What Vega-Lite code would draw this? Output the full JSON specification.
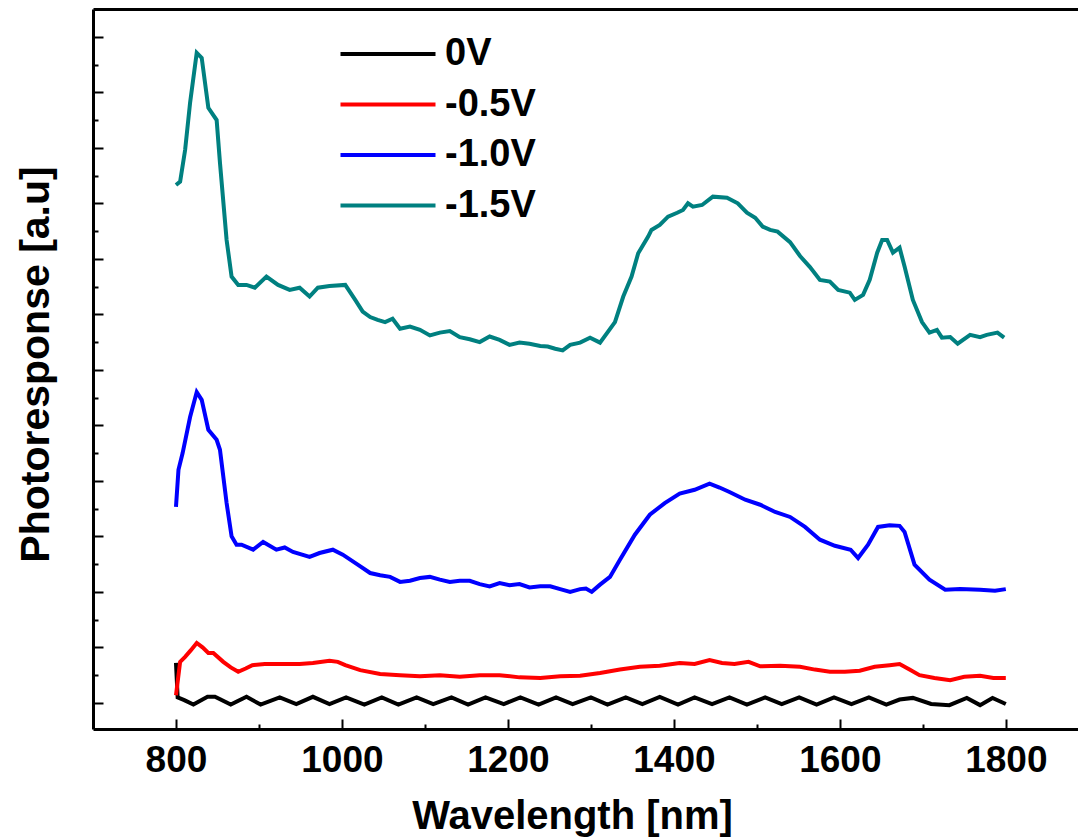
{
  "$schema": "https://vega.github.io/schema/vega-lite/v6.json",
  "width": 985,
  "height": 720,
  "autosize": {"type": "none"},
  "padding": {"left": 93, "top": 9, "right": 0, "bottom": 111},
  "background": "white",
  "config": {"view": {"stroke": null}, "font": "Liberation Sans"},
  "datasets": {
    "curves": [
      {"s": "0V", "nm": 800, "v": 0.72}, {"s": "0V", "nm": 802, "v": 0.1}, {"s": "0V", "nm": 810, "v": 0.05}, {"s": "0V", "nm": 821, "v": -0.03}, {"s": "0V", "nm": 838, "v": 0.11}, {"s": "0V", "nm": 847, "v": 0.11}, {"s": "0V", "nm": 866, "v": -0.03}, {"s": "0V", "nm": 885, "v": 0.11}, {"s": "0V", "nm": 902, "v": -0.03}, {"s": "0V", "nm": 925, "v": 0.1}, {"s": "0V", "nm": 945, "v": -0.02}, {"s": "0V", "nm": 965, "v": 0.11}, {"s": "0V", "nm": 985, "v": -0.02}, {"s": "0V", "nm": 1005, "v": 0.1}, {"s": "0V", "nm": 1027, "v": -0.03}, {"s": "0V", "nm": 1048, "v": 0.1}, {"s": "0V", "nm": 1068, "v": -0.03}, {"s": "0V", "nm": 1090, "v": 0.1}, {"s": "0V", "nm": 1110, "v": -0.02}, {"s": "0V", "nm": 1132, "v": 0.1}, {"s": "0V", "nm": 1152, "v": -0.03}, {"s": "0V", "nm": 1173, "v": 0.1}, {"s": "0V", "nm": 1195, "v": -0.02}, {"s": "0V", "nm": 1215, "v": 0.1}, {"s": "0V", "nm": 1237, "v": -0.03}, {"s": "0V", "nm": 1258, "v": 0.1}, {"s": "0V", "nm": 1278, "v": -0.02}, {"s": "0V", "nm": 1300, "v": 0.1}, {"s": "0V", "nm": 1320, "v": -0.03}, {"s": "0V", "nm": 1342, "v": 0.1}, {"s": "0V", "nm": 1362, "v": -0.02}, {"s": "0V", "nm": 1383, "v": 0.11}, {"s": "0V", "nm": 1405, "v": -0.03}, {"s": "0V", "nm": 1425, "v": 0.1}, {"s": "0V", "nm": 1446, "v": -0.02}, {"s": "0V", "nm": 1467, "v": 0.1}, {"s": "0V", "nm": 1488, "v": -0.03}, {"s": "0V", "nm": 1510, "v": 0.1}, {"s": "0V", "nm": 1530, "v": -0.02}, {"s": "0V", "nm": 1551, "v": 0.1}, {"s": "0V", "nm": 1572, "v": -0.03}, {"s": "0V", "nm": 1593, "v": 0.1}, {"s": "0V", "nm": 1614, "v": -0.02}, {"s": "0V", "nm": 1635, "v": 0.1}, {"s": "0V", "nm": 1656, "v": -0.03}, {"s": "0V", "nm": 1672, "v": 0.06}, {"s": "0V", "nm": 1688, "v": 0.09}, {"s": "0V", "nm": 1710, "v": -0.02}, {"s": "0V", "nm": 1732, "v": -0.04}, {"s": "0V", "nm": 1753, "v": 0.09}, {"s": "0V", "nm": 1769, "v": -0.04}, {"s": "0V", "nm": 1784, "v": 0.09}, {"s": "0V", "nm": 1800, "v": -0.02},

      {"s": "-0.5V", "nm": 800, "v": 0.14}, {"s": "-0.5V", "nm": 805, "v": 0.74}, {"s": "-0.5V", "nm": 811, "v": 0.83}, {"s": "-0.5V", "nm": 818, "v": 0.95}, {"s": "-0.5V", "nm": 825, "v": 1.08}, {"s": "-0.5V", "nm": 832, "v": 1.0}, {"s": "-0.5V", "nm": 839, "v": 0.9}, {"s": "-0.5V", "nm": 845, "v": 0.9}, {"s": "-0.5V", "nm": 857, "v": 0.74}, {"s": "-0.5V", "nm": 866, "v": 0.64}, {"s": "-0.5V", "nm": 875, "v": 0.56}, {"s": "-0.5V", "nm": 884, "v": 0.62}, {"s": "-0.5V", "nm": 892, "v": 0.68}, {"s": "-0.5V", "nm": 907, "v": 0.7}, {"s": "-0.5V", "nm": 925, "v": 0.7}, {"s": "-0.5V", "nm": 949, "v": 0.7}, {"s": "-0.5V", "nm": 965, "v": 0.72}, {"s": "-0.5V", "nm": 985, "v": 0.76}, {"s": "-0.5V", "nm": 995, "v": 0.74}, {"s": "-0.5V", "nm": 1004, "v": 0.68}, {"s": "-0.5V", "nm": 1022, "v": 0.59}, {"s": "-0.5V", "nm": 1046, "v": 0.52}, {"s": "-0.5V", "nm": 1070, "v": 0.5}, {"s": "-0.5V", "nm": 1094, "v": 0.48}, {"s": "-0.5V", "nm": 1118, "v": 0.5}, {"s": "-0.5V", "nm": 1142, "v": 0.47}, {"s": "-0.5V", "nm": 1166, "v": 0.5}, {"s": "-0.5V", "nm": 1190, "v": 0.5}, {"s": "-0.5V", "nm": 1214, "v": 0.46}, {"s": "-0.5V", "nm": 1239, "v": 0.45}, {"s": "-0.5V", "nm": 1263, "v": 0.48}, {"s": "-0.5V", "nm": 1287, "v": 0.49}, {"s": "-0.5V", "nm": 1311, "v": 0.54}, {"s": "-0.5V", "nm": 1335, "v": 0.6}, {"s": "-0.5V", "nm": 1359, "v": 0.65}, {"s": "-0.5V", "nm": 1383, "v": 0.67}, {"s": "-0.5V", "nm": 1407, "v": 0.72}, {"s": "-0.5V", "nm": 1425, "v": 0.7}, {"s": "-0.5V", "nm": 1443, "v": 0.77}, {"s": "-0.5V", "nm": 1458, "v": 0.72}, {"s": "-0.5V", "nm": 1473, "v": 0.7}, {"s": "-0.5V", "nm": 1490, "v": 0.74}, {"s": "-0.5V", "nm": 1504, "v": 0.66}, {"s": "-0.5V", "nm": 1528, "v": 0.67}, {"s": "-0.5V", "nm": 1552, "v": 0.65}, {"s": "-0.5V", "nm": 1570, "v": 0.6}, {"s": "-0.5V", "nm": 1588, "v": 0.56}, {"s": "-0.5V", "nm": 1606, "v": 0.56}, {"s": "-0.5V", "nm": 1624, "v": 0.58}, {"s": "-0.5V", "nm": 1642, "v": 0.65}, {"s": "-0.5V", "nm": 1660, "v": 0.68}, {"s": "-0.5V", "nm": 1672, "v": 0.7}, {"s": "-0.5V", "nm": 1684, "v": 0.6}, {"s": "-0.5V", "nm": 1696, "v": 0.5}, {"s": "-0.5V", "nm": 1714, "v": 0.45}, {"s": "-0.5V", "nm": 1733, "v": 0.41}, {"s": "-0.5V", "nm": 1750, "v": 0.47}, {"s": "-0.5V", "nm": 1769, "v": 0.49}, {"s": "-0.5V", "nm": 1785, "v": 0.45}, {"s": "-0.5V", "nm": 1800, "v": 0.45},

      {"s": "-1.0V", "nm": 800, "v": 3.53}, {"s": "-1.0V", "nm": 803, "v": 4.2}, {"s": "-1.0V", "nm": 808, "v": 4.5}, {"s": "-1.0V", "nm": 817, "v": 5.15}, {"s": "-1.0V", "nm": 825, "v": 5.6}, {"s": "-1.0V", "nm": 831, "v": 5.46}, {"s": "-1.0V", "nm": 839, "v": 4.92}, {"s": "-1.0V", "nm": 849, "v": 4.74}, {"s": "-1.0V", "nm": 853, "v": 4.56}, {"s": "-1.0V", "nm": 861, "v": 3.6}, {"s": "-1.0V", "nm": 867, "v": 3.0}, {"s": "-1.0V", "nm": 873, "v": 2.85}, {"s": "-1.0V", "nm": 879, "v": 2.85}, {"s": "-1.0V", "nm": 893, "v": 2.76}, {"s": "-1.0V", "nm": 905, "v": 2.9}, {"s": "-1.0V", "nm": 921, "v": 2.76}, {"s": "-1.0V", "nm": 931, "v": 2.8}, {"s": "-1.0V", "nm": 941, "v": 2.72}, {"s": "-1.0V", "nm": 961, "v": 2.63}, {"s": "-1.0V", "nm": 973, "v": 2.7}, {"s": "-1.0V", "nm": 989, "v": 2.76}, {"s": "-1.0V", "nm": 1001, "v": 2.67}, {"s": "-1.0V", "nm": 1019, "v": 2.49}, {"s": "-1.0V", "nm": 1034, "v": 2.34}, {"s": "-1.0V", "nm": 1046, "v": 2.3}, {"s": "-1.0V", "nm": 1058, "v": 2.27}, {"s": "-1.0V", "nm": 1070, "v": 2.18}, {"s": "-1.0V", "nm": 1082, "v": 2.2}, {"s": "-1.0V", "nm": 1094, "v": 2.25}, {"s": "-1.0V", "nm": 1106, "v": 2.27}, {"s": "-1.0V", "nm": 1118, "v": 2.22}, {"s": "-1.0V", "nm": 1130, "v": 2.18}, {"s": "-1.0V", "nm": 1142, "v": 2.2}, {"s": "-1.0V", "nm": 1154, "v": 2.2}, {"s": "-1.0V", "nm": 1166, "v": 2.14}, {"s": "-1.0V", "nm": 1178, "v": 2.1}, {"s": "-1.0V", "nm": 1190, "v": 2.16}, {"s": "-1.0V", "nm": 1202, "v": 2.12}, {"s": "-1.0V", "nm": 1214, "v": 2.14}, {"s": "-1.0V", "nm": 1226, "v": 2.08}, {"s": "-1.0V", "nm": 1239, "v": 2.1}, {"s": "-1.0V", "nm": 1251, "v": 2.1}, {"s": "-1.0V", "nm": 1263, "v": 2.05}, {"s": "-1.0V", "nm": 1275, "v": 2.0}, {"s": "-1.0V", "nm": 1287, "v": 2.05}, {"s": "-1.0V", "nm": 1294, "v": 2.06}, {"s": "-1.0V", "nm": 1301, "v": 2.0}, {"s": "-1.0V", "nm": 1311, "v": 2.13}, {"s": "-1.0V", "nm": 1323, "v": 2.27}, {"s": "-1.0V", "nm": 1335, "v": 2.58}, {"s": "-1.0V", "nm": 1353, "v": 3.03}, {"s": "-1.0V", "nm": 1371, "v": 3.39}, {"s": "-1.0V", "nm": 1389, "v": 3.6}, {"s": "-1.0V", "nm": 1407, "v": 3.77}, {"s": "-1.0V", "nm": 1425, "v": 3.84}, {"s": "-1.0V", "nm": 1443, "v": 3.95}, {"s": "-1.0V", "nm": 1455, "v": 3.88}, {"s": "-1.0V", "nm": 1467, "v": 3.8}, {"s": "-1.0V", "nm": 1486, "v": 3.66}, {"s": "-1.0V", "nm": 1504, "v": 3.57}, {"s": "-1.0V", "nm": 1522, "v": 3.44}, {"s": "-1.0V", "nm": 1540, "v": 3.35}, {"s": "-1.0V", "nm": 1558, "v": 3.17}, {"s": "-1.0V", "nm": 1576, "v": 2.94}, {"s": "-1.0V", "nm": 1594, "v": 2.83}, {"s": "-1.0V", "nm": 1613, "v": 2.76}, {"s": "-1.0V", "nm": 1622, "v": 2.61}, {"s": "-1.0V", "nm": 1634, "v": 2.85}, {"s": "-1.0V", "nm": 1646, "v": 3.17}, {"s": "-1.0V", "nm": 1660, "v": 3.2}, {"s": "-1.0V", "nm": 1672, "v": 3.19}, {"s": "-1.0V", "nm": 1678, "v": 3.08}, {"s": "-1.0V", "nm": 1690, "v": 2.49}, {"s": "-1.0V", "nm": 1708, "v": 2.22}, {"s": "-1.0V", "nm": 1727, "v": 2.04}, {"s": "-1.0V", "nm": 1745, "v": 2.05}, {"s": "-1.0V", "nm": 1769, "v": 2.04}, {"s": "-1.0V", "nm": 1787, "v": 2.02}, {"s": "-1.0V", "nm": 1800, "v": 2.05},

      {"s": "-1.5V", "nm": 800, "v": 9.33}, {"s": "-1.5V", "nm": 805, "v": 9.39}, {"s": "-1.5V", "nm": 811, "v": 9.96}, {"s": "-1.5V", "nm": 817, "v": 10.81}, {"s": "-1.5V", "nm": 825, "v": 11.71}, {"s": "-1.5V", "nm": 831, "v": 11.62}, {"s": "-1.5V", "nm": 839, "v": 10.72}, {"s": "-1.5V", "nm": 849, "v": 10.5}, {"s": "-1.5V", "nm": 853, "v": 9.73}, {"s": "-1.5V", "nm": 861, "v": 8.34}, {"s": "-1.5V", "nm": 867, "v": 7.68}, {"s": "-1.5V", "nm": 875, "v": 7.53}, {"s": "-1.5V", "nm": 885, "v": 7.53}, {"s": "-1.5V", "nm": 895, "v": 7.48}, {"s": "-1.5V", "nm": 909, "v": 7.68}, {"s": "-1.5V", "nm": 923, "v": 7.53}, {"s": "-1.5V", "nm": 937, "v": 7.44}, {"s": "-1.5V", "nm": 949, "v": 7.48}, {"s": "-1.5V", "nm": 961, "v": 7.32}, {"s": "-1.5V", "nm": 971, "v": 7.48}, {"s": "-1.5V", "nm": 985, "v": 7.51}, {"s": "-1.5V", "nm": 1004, "v": 7.53}, {"s": "-1.5V", "nm": 1016, "v": 7.26}, {"s": "-1.5V", "nm": 1025, "v": 7.05}, {"s": "-1.5V", "nm": 1034, "v": 6.95}, {"s": "-1.5V", "nm": 1043, "v": 6.9}, {"s": "-1.5V", "nm": 1052, "v": 6.86}, {"s": "-1.5V", "nm": 1061, "v": 6.92}, {"s": "-1.5V", "nm": 1070, "v": 6.74}, {"s": "-1.5V", "nm": 1082, "v": 6.78}, {"s": "-1.5V", "nm": 1094, "v": 6.72}, {"s": "-1.5V", "nm": 1106, "v": 6.62}, {"s": "-1.5V", "nm": 1118, "v": 6.67}, {"s": "-1.5V", "nm": 1130, "v": 6.7}, {"s": "-1.5V", "nm": 1142, "v": 6.59}, {"s": "-1.5V", "nm": 1154, "v": 6.55}, {"s": "-1.5V", "nm": 1166, "v": 6.5}, {"s": "-1.5V", "nm": 1178, "v": 6.6}, {"s": "-1.5V", "nm": 1190, "v": 6.54}, {"s": "-1.5V", "nm": 1202, "v": 6.45}, {"s": "-1.5V", "nm": 1214, "v": 6.49}, {"s": "-1.5V", "nm": 1226, "v": 6.47}, {"s": "-1.5V", "nm": 1239, "v": 6.43}, {"s": "-1.5V", "nm": 1248, "v": 6.42}, {"s": "-1.5V", "nm": 1257, "v": 6.38}, {"s": "-1.5V", "nm": 1266, "v": 6.35}, {"s": "-1.5V", "nm": 1275, "v": 6.45}, {"s": "-1.5V", "nm": 1287, "v": 6.49}, {"s": "-1.5V", "nm": 1299, "v": 6.58}, {"s": "-1.5V", "nm": 1311, "v": 6.49}, {"s": "-1.5V", "nm": 1329, "v": 6.86}, {"s": "-1.5V", "nm": 1339, "v": 7.32}, {"s": "-1.5V", "nm": 1349, "v": 7.68}, {"s": "-1.5V", "nm": 1357, "v": 8.1}, {"s": "-1.5V", "nm": 1369, "v": 8.4}, {"s": "-1.5V", "nm": 1373, "v": 8.52}, {"s": "-1.5V", "nm": 1383, "v": 8.61}, {"s": "-1.5V", "nm": 1393, "v": 8.76}, {"s": "-1.5V", "nm": 1404, "v": 8.83}, {"s": "-1.5V", "nm": 1411, "v": 8.88}, {"s": "-1.5V", "nm": 1417, "v": 9.0}, {"s": "-1.5V", "nm": 1423, "v": 8.94}, {"s": "-1.5V", "nm": 1434, "v": 8.97}, {"s": "-1.5V", "nm": 1447, "v": 9.12}, {"s": "-1.5V", "nm": 1464, "v": 9.1}, {"s": "-1.5V", "nm": 1477, "v": 9.0}, {"s": "-1.5V", "nm": 1488, "v": 8.83}, {"s": "-1.5V", "nm": 1498, "v": 8.74}, {"s": "-1.5V", "nm": 1507, "v": 8.58}, {"s": "-1.5V", "nm": 1516, "v": 8.52}, {"s": "-1.5V", "nm": 1525, "v": 8.49}, {"s": "-1.5V", "nm": 1540, "v": 8.3}, {"s": "-1.5V", "nm": 1552, "v": 8.05}, {"s": "-1.5V", "nm": 1564, "v": 7.85}, {"s": "-1.5V", "nm": 1576, "v": 7.62}, {"s": "-1.5V", "nm": 1588, "v": 7.59}, {"s": "-1.5V", "nm": 1598, "v": 7.44}, {"s": "-1.5V", "nm": 1612, "v": 7.39}, {"s": "-1.5V", "nm": 1618, "v": 7.26}, {"s": "-1.5V", "nm": 1628, "v": 7.35}, {"s": "-1.5V", "nm": 1636, "v": 7.62}, {"s": "-1.5V", "nm": 1645, "v": 8.11}, {"s": "-1.5V", "nm": 1651, "v": 8.34}, {"s": "-1.5V", "nm": 1657, "v": 8.34}, {"s": "-1.5V", "nm": 1664, "v": 8.11}, {"s": "-1.5V", "nm": 1672, "v": 8.2}, {"s": "-1.5V", "nm": 1678, "v": 7.86}, {"s": "-1.5V", "nm": 1688, "v": 7.26}, {"s": "-1.5V", "nm": 1699, "v": 6.86}, {"s": "-1.5V", "nm": 1708, "v": 6.67}, {"s": "-1.5V", "nm": 1717, "v": 6.72}, {"s": "-1.5V", "nm": 1723, "v": 6.58}, {"s": "-1.5V", "nm": 1733, "v": 6.59}, {"s": "-1.5V", "nm": 1742, "v": 6.47}, {"s": "-1.5V", "nm": 1757, "v": 6.63}, {"s": "-1.5V", "nm": 1769, "v": 6.59}, {"s": "-1.5V", "nm": 1777, "v": 6.63}, {"s": "-1.5V", "nm": 1790, "v": 6.67}, {"s": "-1.5V", "nm": 1798, "v": 6.58}
    ]
  },
  "data": {"name": "curves"},
  "layer": [
    {
      "mark": {"type": "line", "strokeWidth": 4, "interpolate": "linear"},
      "encoding": {
        "x": {
          "field": "nm", "type": "quantitative",
          "scale": {"domain": [700, 1887], "nice": false, "zero": false},
          "axis": {
            "orient": "bottom",
            "values": [800, 1000, 1200, 1400, 1600, 1800],
            "format": "d",
            "grid": false,
            "domainWidth": 3, "domainColor": "black",
            "tickColor": "black", "tickWidth": 2, "tickSize": -10,
            "labelFont": "Liberation Sans", "labelFontSize": 37, "labelFontWeight": "bold", "labelColor": "black",
            "labelBaseline": "alphabetic", "labelPadding": 52, "labelFlush": false, "labelOverlap": false,
            "title": "Wavelength [nm]",
            "titleFont": "Liberation Sans", "titleFontSize": 40, "titleFontWeight": "bold", "titleColor": "black",
            "titleBaseline": "alphabetic", "titleAnchor": "start", "titleAlign": "center",
            "titleX": 479, "titleY": 99
          }
        },
        "y": {
          "field": "v", "type": "quantitative",
          "scale": {"domain": [-0.47, 12.5], "nice": false, "zero": false},
          "axis": {
            "values": [0, 1, 2, 3, 4, 5, 6, 7, 8, 9, 10, 11, 12],
            "labels": false, "grid": false,
            "domainWidth": 3, "domainColor": "black",
            "tickColor": "black", "tickWidth": 2, "tickSize": -10,
            "title": "Photoresponse [a.u]",
            "titleFont": "Liberation Sans", "titleFontSize": 41, "titleFontWeight": "bold", "titleColor": "black",
            "titleBaseline": "alphabetic", "titleAngle": 270, "titleAlign": "center", "titleAnchor": "start",
            "titleX": -45, "titleY": 355
          }
        },
        "color": {
          "field": "s", "type": "nominal",
          "scale": {"domain": ["0V", "-0.5V", "-1.0V", "-1.5V"], "range": ["#000000", "#ff0000", "#0000ff", "#008080"]},
          "legend": {
            "orient": "none", "legendX": 274, "legendY": 24, "title": null, "padding": 0,
            "symbolType": "M-2.5,0H2.5", "symbolSize": 1444, "symbolStrokeWidth": 4,
            "labelFont": "Liberation Sans", "labelFontSize": 38, "labelFontWeight": "bold", "labelColor": "black",
            "labelOffset": 36, "rowPadding": 10.5
          }
        }
      }
    },
    {
      "mark": {"type": "rule", "opacity": 0},
      "encoding": {
        "x": {"field": "nm", "type": "quantitative", "axis": {"orient": "top", "ticks": false, "labels": false, "title": null, "grid": false, "domainWidth": 3, "domainColor": "black"}}
      }
    },
    {
      "mark": {"type": "rule", "opacity": 0},
      "encoding": {
        "x": {"field": "nm", "type": "quantitative", "axis": {"orient": "bottom", "values": [900, 1100, 1300, 1500, 1700], "labels": false, "title": null, "grid": false, "domain": false, "tickColor": "black", "tickWidth": 2, "tickSize": -5}}
      }
    },
    {
      "mark": {"type": "rule", "opacity": 0},
      "encoding": {
        "y": {"field": "v", "type": "quantitative", "axis": {"orient": "left", "values": [0.5, 1.5, 2.5, 3.5, 4.5, 5.5, 6.5, 7.5, 8.5, 9.5, 10.5, 11.5], "labels": false, "title": null, "grid": false, "domain": false, "tickColor": "black", "tickWidth": 2, "tickSize": -5}}
      }
    }
  ],
  "resolve": {"axis": {"x": "independent", "y": "independent"}}
}
